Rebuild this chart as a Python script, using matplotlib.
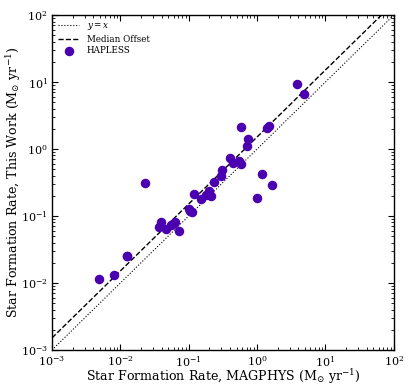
import matplotlib
matplotlib.use('Agg')
import matplotlib.pyplot as plt
import numpy as np

# SFR values (M_sun / yr)
sfr_magphys = [0.00486, 0.00815, 0.01236, 0.0127, 0.0226, 0.0363, 0.0388, 0.0459,
               0.0549, 0.0582, 0.0629, 0.0726, 0.0997, 0.104, 0.1125, 0.121,
               0.152, 0.177, 0.197, 0.211, 0.231, 0.296, 0.303, 0.404, 0.448,
               0.547, 0.579, 0.574, 0.702, 0.733, 0.984, 1.164, 1.39, 1.50,
               1.66, 3.82, 4.83]
sfr_this_work = [0.01135, 0.0133, 0.0249, 0.0257, 0.307, 0.0678, 0.0813, 0.0646,
                 0.0726, 0.076, 0.0813, 0.0597, 0.126, 0.120, 0.115, 0.211,
                 0.179, 0.204, 0.239, 0.201, 0.325, 0.392, 0.491, 0.726, 0.625,
                 0.662, 0.591, 2.13, 1.12, 1.40, 0.1875, 0.428, 2.04, 2.20,
                 0.293, 9.44, 6.62]
median_offset_dex = 0.18

plt.rcParams['font.family'] = 'DejaVu Serif'
plt.rcParams['mathtext.fontset'] = 'dejavuserif'
plt.rcParams['xtick.direction'] = 'in'
plt.rcParams['ytick.direction'] = 'in'

fig = plt.figure(figsize=(4.15, 3.89), dpi=100, facecolor='white')
ax = fig.add_axes([0.1253, 0.1003, 0.949 - 0.1253, 0.9614 - 0.1003], facecolor='white')

line = np.array([1e-3, 1e2])
ax.plot(line, line, color='black', linestyle=':', linewidth=0.8, label=r'$y=x$')
ax.plot(line, line * 10**median_offset_dex, color='black', linestyle='--',
        linewidth=1.0, label='Median Offset')
ax.scatter(sfr_magphys, sfr_this_work, s=34, color='#4a00b0', edgecolors='#4a00b0',
           zorder=3, label='HAPLESS')

ax.set_xscale('log')
ax.set_yscale('log')
ax.set_xlim(1e-3, 1e2)
ax.set_ylim(1e-3, 1e2)

ax.tick_params(which='both', top=True, right=True, labelsize=8)
ax.tick_params(which='major', length=4, pad=3)
ax.tick_params(which='minor', length=2)
for s in ax.spines.values():
    s.set_linewidth(1.0)

ax.set_xlabel(r'Star Formation Rate, MAGPHYS (M$_{\odot}$ yr$^{-1}$)', fontsize=9.1,
              labelpad=-1)
ax.set_ylabel(r'Star Formation Rate, This Work (M$_{\odot}$ yr$^{-1}$)', fontsize=9.1,
              labelpad=-2)

ax.legend(loc='upper left', frameon=False, fontsize=6.3, scatterpoints=1,
          handlelength=2.4, handletextpad=0.9, borderaxespad=0.4, borderpad=0.3,
          labelspacing=0.3)

fig.savefig('out.png', dpi=100, facecolor='white')
